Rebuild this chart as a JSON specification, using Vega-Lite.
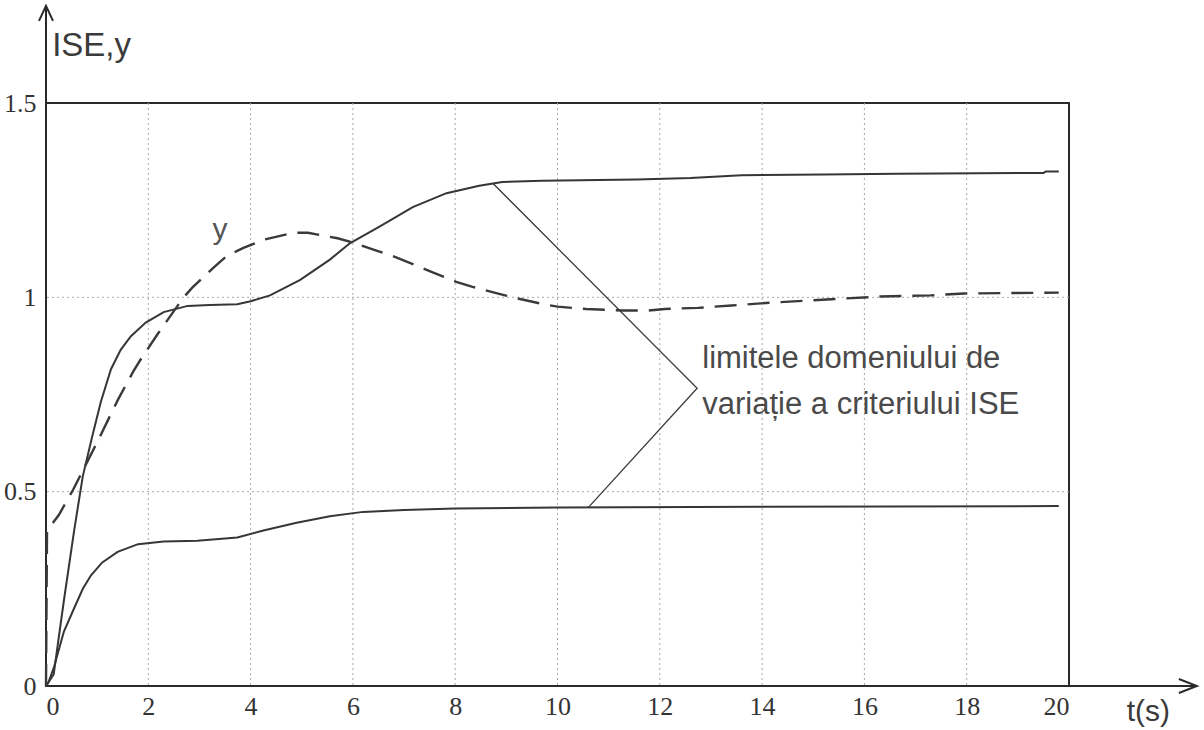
{
  "$schema": "https://vega.github.io/schema/vega-lite/v6.json",
  "width": 1023,
  "height": 583,
  "autosize": {"type": "none"},
  "padding": {"left": 46, "top": 103, "right": 135, "bottom": 44},
  "background": "white",
  "config": {
    "view": {"stroke": "#2a2a2a", "strokeWidth": 2},
    "axis": {
      "grid": false,
      "ticks": false,
      "domain": false,
      "title": null,
      "labelFont": "Liberation Serif",
      "labelFontSize": 26,
      "labelColor": "#333333"
    }
  },
  "datasets": {
    "curves": [
      {"s": "hi", "t": 0, "v": 0},
      {"s": "hi", "t": 0.15, "v": 0.03},
      {"s": "hi", "t": 0.35, "v": 0.22},
      {"s": "hi", "t": 0.55, "v": 0.4},
      {"s": "hi", "t": 0.72, "v": 0.54},
      {"s": "hi", "t": 0.9, "v": 0.64},
      {"s": "hi", "t": 1.07, "v": 0.73},
      {"s": "hi", "t": 1.27, "v": 0.815},
      {"s": "hi", "t": 1.46, "v": 0.865},
      {"s": "hi", "t": 1.66, "v": 0.9},
      {"s": "hi", "t": 1.95, "v": 0.935},
      {"s": "hi", "t": 2.3, "v": 0.962},
      {"s": "hi", "t": 2.77, "v": 0.978},
      {"s": "hi", "t": 3.2, "v": 0.98},
      {"s": "hi", "t": 3.74, "v": 0.982},
      {"s": "hi", "t": 4.0, "v": 0.99},
      {"s": "hi", "t": 4.38, "v": 1.005},
      {"s": "hi", "t": 4.97, "v": 1.045},
      {"s": "hi", "t": 5.55, "v": 1.097},
      {"s": "hi", "t": 5.94, "v": 1.139},
      {"s": "hi", "t": 6.52, "v": 1.182},
      {"s": "hi", "t": 7.17, "v": 1.232},
      {"s": "hi", "t": 7.83, "v": 1.268},
      {"s": "hi", "t": 8.47, "v": 1.287},
      {"s": "hi", "t": 8.92, "v": 1.297},
      {"s": "hi", "t": 9.7, "v": 1.3},
      {"s": "hi", "t": 11.55, "v": 1.303},
      {"s": "hi", "t": 12.6, "v": 1.307},
      {"s": "hi", "t": 13.6, "v": 1.314},
      {"s": "hi", "t": 15.2, "v": 1.316},
      {"s": "hi", "t": 16.65, "v": 1.318},
      {"s": "hi", "t": 19.5, "v": 1.32},
      {"s": "hi", "t": 19.55, "v": 1.324},
      {"s": "hi", "t": 19.8, "v": 1.324},
      {"s": "lo", "t": 0, "v": 0},
      {"s": "lo", "t": 0.05, "v": 0.01},
      {"s": "lo", "t": 0.16, "v": 0.05},
      {"s": "lo", "t": 0.35, "v": 0.14},
      {"s": "lo", "t": 0.55, "v": 0.2},
      {"s": "lo", "t": 0.72, "v": 0.25},
      {"s": "lo", "t": 0.88, "v": 0.285},
      {"s": "lo", "t": 1.1, "v": 0.318},
      {"s": "lo", "t": 1.4, "v": 0.345},
      {"s": "lo", "t": 1.8, "v": 0.365},
      {"s": "lo", "t": 2.3, "v": 0.372},
      {"s": "lo", "t": 2.96, "v": 0.374},
      {"s": "lo", "t": 3.74, "v": 0.382},
      {"s": "lo", "t": 4.25, "v": 0.4},
      {"s": "lo", "t": 4.9, "v": 0.42},
      {"s": "lo", "t": 5.55, "v": 0.437},
      {"s": "lo", "t": 6.2, "v": 0.448},
      {"s": "lo", "t": 7, "v": 0.453},
      {"s": "lo", "t": 8, "v": 0.457},
      {"s": "lo", "t": 10, "v": 0.459},
      {"s": "lo", "t": 14, "v": 0.461},
      {"s": "lo", "t": 19.8, "v": 0.463}
    ],
    "yresp": [
      {"t": 0, "v": 0},
      {"t": 0.02, "v": 0.4},
      {"t": 0.25, "v": 0.44},
      {"t": 0.53, "v": 0.505},
      {"t": 1.03, "v": 0.635},
      {"t": 1.27, "v": 0.7},
      {"t": 1.42, "v": 0.74},
      {"t": 1.71, "v": 0.81},
      {"t": 1.85, "v": 0.84},
      {"t": 2.18, "v": 0.905},
      {"t": 2.34, "v": 0.935},
      {"t": 2.69, "v": 1.0},
      {"t": 2.86, "v": 1.025},
      {"t": 3.27, "v": 1.076},
      {"t": 3.54, "v": 1.107},
      {"t": 3.86, "v": 1.127},
      {"t": 4.25, "v": 1.148},
      {"t": 4.83, "v": 1.166},
      {"t": 5.12, "v": 1.166},
      {"t": 5.7, "v": 1.152},
      {"t": 6.0, "v": 1.141},
      {"t": 6.46, "v": 1.12},
      {"t": 6.76, "v": 1.107},
      {"t": 7.26, "v": 1.081},
      {"t": 7.56, "v": 1.064},
      {"t": 8.02, "v": 1.04},
      {"t": 8.34, "v": 1.027},
      {"t": 8.86, "v": 1.009},
      {"t": 9.19, "v": 0.998},
      {"t": 9.7, "v": 0.983},
      {"t": 10.0, "v": 0.976},
      {"t": 10.56, "v": 0.97},
      {"t": 11.26, "v": 0.966},
      {"t": 11.78, "v": 0.966},
      {"t": 12.1, "v": 0.97},
      {"t": 12.75, "v": 0.973},
      {"t": 13.4, "v": 0.979},
      {"t": 14.25, "v": 0.987},
      {"t": 15.35, "v": 0.995},
      {"t": 16.3, "v": 1.002},
      {"t": 17.3, "v": 1.005},
      {"t": 17.95, "v": 1.01},
      {"t": 19.8, "v": 1.012}
    ],
    "pointer": [
      {"i": 0, "t": 8.74, "v": 1.293},
      {"i": 1, "t": 12.73, "v": 0.766},
      {"i": 2, "t": 10.6, "v": 0.459}
    ],
    "axisext": [
      {"t": 0, "t2": 0, "v": 1.5, "v2": 1.75},
      {"t": 20, "t2": 22.5, "v": 0, "v2": 0}
    ],
    "arrows": [
      {"dir": "up", "t": 0, "v": 1.75},
      {"dir": "right", "t": 22.5, "v": 0}
    ],
    "gridx": [{"t": 2}, {"t": 4}, {"t": 6}, {"t": 8}, {"t": 10}, {"t": 12}, {"t": 14}, {"t": 16}, {"t": 18}],
    "gridy": [{"v": 0.5}, {"v": 1}],
    "annot": [
      {"t": 12.83, "v": 0.817, "label": "limitele domeniului de"},
      {"t": 12.83, "v": 0.7, "label": "variație a criteriului ISE"}
    ],
    "titles": [
      {"t": 0.12, "v": 1.62, "label": "ISE,y", "kind": "ylab"},
      {"t": 21.55, "v": -0.09, "label": "t(s)", "kind": "xlab"}
    ],
    "ytag": [{"t": 3.4, "v": 1.15, "label": "y"}]
  },
  "layer": [
    {
      "data": {"name": "gridx"},
      "mark": {"type": "rule", "color": "#a8a8a8", "strokeWidth": 1, "strokeDash": [2, 3]},
      "encoding": {
        "x": {"field": "t", "type": "quantitative", "scale": {"domain": [0, 20], "nice": false},
          "axis": {"values": [0, 2, 4, 6, 8, 10, 12, 14, 16, 18, 20], "labelPadding": 7, "labelDx": 5, "labelBaseline": "top"}}
      }
    },
    {
      "data": {"name": "gridy"},
      "mark": {"type": "rule", "color": "#a8a8a8", "strokeWidth": 1, "strokeDash": [2, 3]},
      "encoding": {
        "y": {"field": "v", "type": "quantitative", "scale": {"domain": [0, 1.5], "nice": false},
          "axis": {"values": [0, 0.5, 1, 1.5], "format": "~g", "labelPadding": 10}}
      }
    },
    {
      "data": {"name": "curves"},
      "mark": {"type": "line", "color": "#363636", "strokeWidth": 2},
      "encoding": {
        "x": {"field": "t", "type": "quantitative"},
        "y": {"field": "v", "type": "quantitative"},
        "detail": {"field": "s"}
      }
    },
    {
      "data": {"name": "yresp"},
      "mark": {"type": "line", "color": "#3a3a3a", "strokeWidth": 2.4, "strokeDash": [22, 11]},
      "encoding": {
        "x": {"field": "t", "type": "quantitative"},
        "y": {"field": "v", "type": "quantitative"}
      }
    },
    {
      "data": {"name": "pointer"},
      "mark": {"type": "line", "color": "#3a3a3a", "strokeWidth": 1.3},
      "encoding": {
        "x": {"field": "t", "type": "quantitative"},
        "y": {"field": "v", "type": "quantitative"},
        "order": {"field": "i"}
      }
    },
    {
      "data": {"name": "axisext"},
      "mark": {"type": "rule", "color": "#2a2a2a", "strokeWidth": 2},
      "encoding": {
        "x": {"field": "t", "type": "quantitative"},
        "x2": {"field": "t2"},
        "y": {"field": "v", "type": "quantitative"},
        "y2": {"field": "v2"}
      }
    },
    {
      "data": {"name": "arrows"},
      "mark": {"type": "point", "filled": false, "stroke": "#2a2a2a", "strokeWidth": 2, "size": 400, "opacity": 1},
      "encoding": {
        "x": {"field": "t", "type": "quantitative"},
        "y": {"field": "v", "type": "quantitative"},
        "shape": {"field": "dir", "type": "nominal", "legend": null,
          "scale": {"domain": ["up", "right"], "range": ["M-0.7,1.5L0,0L0.7,1.5", "M-1.8,-0.7L0,0L-1.8,0.7"]}}
      }
    },
    {
      "data": {"name": "annot"},
      "mark": {"type": "text", "align": "left", "baseline": "alphabetic", "font": "Liberation Sans", "fontSize": 31, "color": "#4a4a4a"},
      "encoding": {
        "x": {"field": "t", "type": "quantitative"},
        "y": {"field": "v", "type": "quantitative"},
        "text": {"field": "label"}
      }
    },
    {
      "data": {"name": "titles"},
      "transform": [{"filter": "datum.kind == 'ylab'"}],
      "mark": {"type": "text", "align": "left", "baseline": "alphabetic", "font": "Liberation Sans", "fontSize": 33, "color": "#3a3a3a"},
      "encoding": {
        "x": {"field": "t", "type": "quantitative"},
        "y": {"field": "v", "type": "quantitative"},
        "text": {"field": "label"}
      }
    },
    {
      "data": {"name": "titles"},
      "transform": [{"filter": "datum.kind == 'xlab'"}],
      "mark": {"type": "text", "align": "center", "baseline": "alphabetic", "font": "Liberation Sans", "fontSize": 30, "color": "#3a3a3a"},
      "encoding": {
        "x": {"field": "t", "type": "quantitative"},
        "y": {"field": "v", "type": "quantitative"},
        "text": {"field": "label"}
      }
    },
    {
      "data": {"name": "ytag"},
      "mark": {"type": "text", "align": "center", "baseline": "alphabetic", "font": "Liberation Sans", "fontSize": 30, "color": "#555555"},
      "encoding": {
        "x": {"field": "t", "type": "quantitative"},
        "y": {"field": "v", "type": "quantitative"},
        "text": {"field": "label"}
      }
    }
  ]
}
